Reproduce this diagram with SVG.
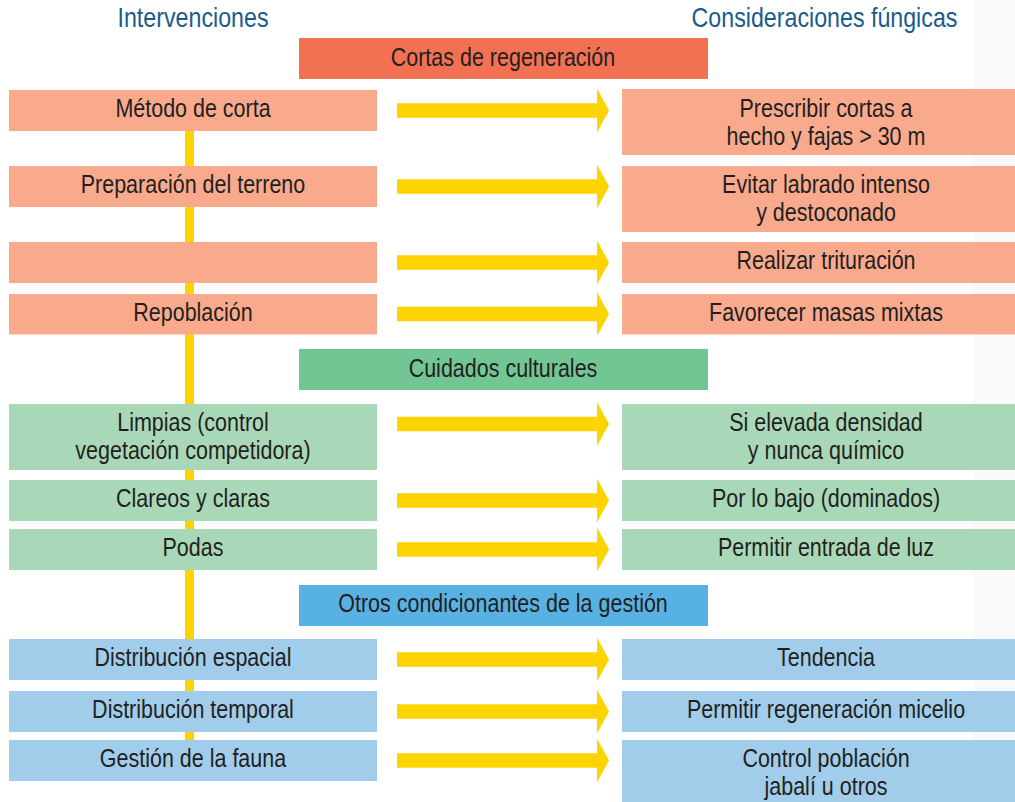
<svg xmlns="http://www.w3.org/2000/svg" width="1015" height="802" viewBox="0 0 1015 802">
<style>
.t{font-family:"Liberation Sans",Arial,sans-serif;font-size:25px;fill:#231f20;text-anchor:middle}
.h{font-family:"Liberation Sans",Arial,sans-serif;font-size:27px;fill:#1b5b8c;text-anchor:middle}
.ti{fill:#f37153}.pk{fill:#f9aa8d}
.tg{fill:#72c694}.lg{fill:#a9d8b8}
.tb{fill:#58b1e3}.lb{fill:#a1cdeb}
.ar{fill:#fed400}
</style>
<defs>
<polygon id="arrow" points="397,-7.3 597,-7.3 597,-22 609,0 597,22 597,7.3 397,7.3"/>
</defs>
<rect x="0" y="0" width="1015" height="802" fill="#ffffff"/>
<rect x="973" y="0" width="42" height="802" fill="#fafafa"/>

<g id="headers">
<text class="h" transform="translate(193,27) scale(0.86,1)">Intervenciones</text>
<text class="h" transform="translate(824.5,27) scale(0.86,1)">Consideraciones fúngicas</text>
</g>

<g id="connectors">
<rect x="185" y="131" width="9" height="609" class="ar"/>
<use href="#arrow" class="ar" transform="translate(0,110.5)"/>
<use href="#arrow" class="ar" transform="translate(0,186.5)"/>
<use href="#arrow" class="ar" transform="translate(0,262.5)"/>
<use href="#arrow" class="ar" transform="translate(0,314)"/>
<use href="#arrow" class="ar" transform="translate(0,424)"/>
<use href="#arrow" class="ar" transform="translate(0,500.5)"/>
<use href="#arrow" class="ar" transform="translate(0,549.5)"/>
<use href="#arrow" class="ar" transform="translate(0,659.5)"/>
<use href="#arrow" class="ar" transform="translate(0,711.5)"/>
<use href="#arrow" class="ar" transform="translate(0,760.5)"/>
</g>

<g id="title-cortas"><rect x="299" y="38" width="409" height="41" class="ti"/>
<text class="t" transform="translate(503,65.5) scale(0.86,1)">Cortas de regeneración</text></g>

<g id="l-metodo"><rect x="9" y="90" width="368" height="41" class="pk"/>
<text class="t" transform="translate(193,117) scale(0.86,1)">Método de corta</text></g>
<g id="r-metodo"><rect x="622" y="89" width="393" height="66" class="pk"/>
<text class="t" transform="translate(826,117) scale(0.86,1)">Prescribir cortas a<tspan x="0" dy="28.3">hecho y fajas &gt; 30 m</tspan></text></g>

<g id="l-prep"><rect x="9" y="166" width="368" height="41" class="pk"/>
<text class="t" transform="translate(193,193) scale(0.86,1)">Preparación del terreno</text></g>
<g id="r-prep"><rect x="622" y="166" width="393" height="66" class="pk"/>
<text class="t" transform="translate(826,193) scale(0.86,1)">Evitar labrado intenso<tspan x="0" dy="28.3">y destoconado</tspan></text></g>

<g id="l-empty"><rect x="9" y="242" width="368" height="41" class="pk"/></g>
<g id="r-trit"><rect x="622" y="242" width="393" height="41" class="pk"/>
<text class="t" transform="translate(826,269) scale(0.86,1)">Realizar trituración</text></g>

<g id="l-repob"><rect x="9" y="294" width="368" height="40.5" class="pk"/>
<text class="t" transform="translate(193,321) scale(0.86,1)">Repoblación</text></g>
<g id="r-repob"><rect x="622" y="294" width="393" height="40.5" class="pk"/>
<text class="t" transform="translate(826,321) scale(0.86,1)">Favorecer masas mixtas</text></g>

<g id="title-cuidados"><rect x="299" y="349" width="409" height="41" class="tg"/>
<text class="t" transform="translate(503,377) scale(0.86,1)">Cuidados culturales</text></g>

<g id="l-limpias"><rect x="9" y="404" width="368" height="66" class="lg"/>
<text class="t" transform="translate(193,431) scale(0.86,1)">Limpias (control<tspan x="0" dy="28.3">vegetación competidora)</tspan></text></g>
<g id="r-limpias"><rect x="622" y="404" width="393" height="66" class="lg"/>
<text class="t" transform="translate(826,431) scale(0.86,1)">Si elevada densidad<tspan x="0" dy="28.3">y nunca químico</tspan></text></g>

<g id="l-clareos"><rect x="9" y="480" width="368" height="41" class="lg"/>
<text class="t" transform="translate(193,507) scale(0.86,1)">Clareos y claras</text></g>
<g id="r-clareos"><rect x="622" y="480" width="393" height="41" class="lg"/>
<text class="t" transform="translate(826,507) scale(0.86,1)">Por lo bajo (dominados)</text></g>

<g id="l-podas"><rect x="9" y="529" width="368" height="41" class="lg"/>
<text class="t" transform="translate(193,556) scale(0.86,1)">Podas</text></g>
<g id="r-podas"><rect x="622" y="529" width="393" height="41" class="lg"/>
<text class="t" transform="translate(826,556) scale(0.86,1)">Permitir entrada de luz</text></g>

<g id="title-otros"><rect x="299" y="585" width="409" height="41" class="tb"/>
<text class="t" transform="translate(503,612) scale(0.86,1)">Otros condicionantes de la gestión</text></g>

<g id="l-espacial"><rect x="9" y="639" width="368" height="41" class="lb"/>
<text class="t" transform="translate(193,666) scale(0.86,1)">Distribución espacial</text></g>
<g id="r-espacial"><rect x="622" y="639" width="393" height="41" class="lb"/>
<text class="t" transform="translate(826,666) scale(0.86,1)">Tendencia</text></g>

<g id="l-temporal"><rect x="9" y="691" width="368" height="41" class="lb"/>
<text class="t" transform="translate(193,718) scale(0.86,1)">Distribución temporal</text></g>
<g id="r-temporal"><rect x="622" y="691" width="393" height="41" class="lb"/>
<text class="t" transform="translate(826,718) scale(0.86,1)">Permitir regeneración micelio</text></g>

<g id="l-fauna"><rect x="9" y="740" width="368" height="41" class="lb"/>
<text class="t" transform="translate(193,767) scale(0.86,1)">Gestión de la fauna</text></g>
<g id="r-fauna"><rect x="622" y="740" width="393" height="62" class="lb"/>
<text class="t" transform="translate(826,767) scale(0.86,1)">Control población<tspan x="0" dy="28.3">jabalí u otros</tspan></text></g>
</svg>
